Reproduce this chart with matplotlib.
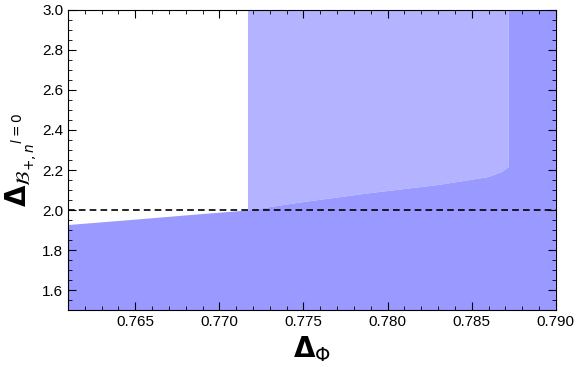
import matplotlib
matplotlib.use("Agg")
import matplotlib.pyplot as plt
from matplotlib.ticker import MultipleLocator

# boundary of the excluded (dark) region
bound_x = [0.7610, 0.7650, 0.7690, 0.7717, 0.7750, 0.7790, 0.7830, 0.7849, 0.7860, 0.7868, 0.7872]
bound_y = [1.925, 1.952, 1.980, 1.998, 2.040, 2.085, 2.125, 2.150, 2.165, 2.190, 2.215]

light_left = 0.7717   # left edge of the lighter region
dark_right = 0.7872   # vertical edge of the dark region
x_lim = (0.7610, 0.790)
y_lim = (1.5, 3.0)
hline_y = 2.0

dark_col = "#9999ff"
light_col = "#b3b3ff"

plt.rcParams["font.family"] = ["Liberation Sans", "DejaVu Sans"]

fig = plt.figure(figsize=(5.76, 3.67), dpi=100)
ax = fig.add_axes([0.118, 0.155, 0.847, 0.818])

# light region: between the boundary and the top, from light_left to dark_right
lx = [x for x in bound_x if x >= light_left]
ly = [y for x, y in zip(bound_x, bound_y) if x >= light_left]
ax.fill(lx + [dark_right, light_left], ly + [y_lim[1], y_lim[1]], color=light_col, lw=0)

# dark region
ax.fill(bound_x + [dark_right, x_lim[1], x_lim[1], x_lim[0]],
        bound_y + [y_lim[1], y_lim[1], y_lim[0], y_lim[0]], color=dark_col, lw=0)

ax.axhline(hline_y, color="black", ls=(0, (4, 2.5)), lw=1.2)

ax.set_xlim(*x_lim)
ax.set_ylim(*y_lim)
ax.xaxis.set_major_locator(MultipleLocator(0.005))
ax.xaxis.set_minor_locator(MultipleLocator(0.001))
ax.yaxis.set_major_locator(MultipleLocator(0.2))
ax.yaxis.set_minor_locator(MultipleLocator(0.05))
ax.xaxis.set_major_formatter(plt.FormatStrFormatter("%.3f"))
ax.yaxis.set_major_formatter(plt.FormatStrFormatter("%.1f"))
ax.tick_params(which="both", direction="in", top=True, right=True, labelsize=11)
ax.tick_params(which="major", length=6)
ax.tick_params(which="minor", length=3)

ax.set_xlabel(r"$\mathbf{\Delta}_{\Phi}$", fontsize=20, labelpad=4)
ax.set_ylabel(r"$\mathbf{\Delta}_{{\mathcal{B}_{+,n}}^{l=0}}$", fontsize=20, labelpad=2)

fig.savefig("out.png", dpi=100)
